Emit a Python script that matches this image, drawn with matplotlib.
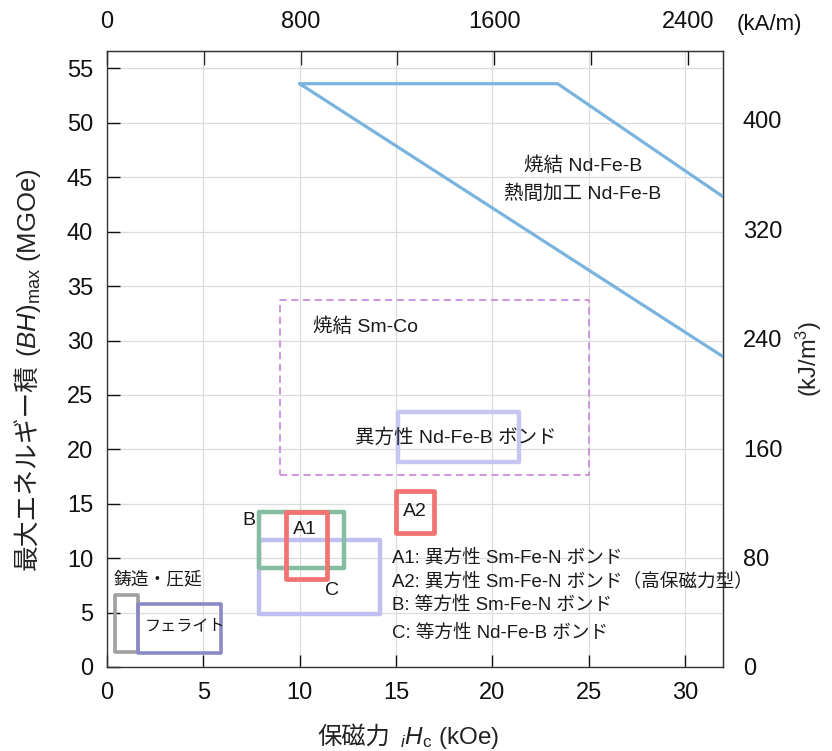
import matplotlib
matplotlib.use('Agg')
import matplotlib.pyplot as plt
from matplotlib.patches import Rectangle

plt.rcParams['font.family'] = ['Liberation Sans', 'Noto Sans CJK JP']
plt.rcParams['mathtext.fontset'] = 'custom'
plt.rcParams['mathtext.rm'] = 'Liberation Sans'
plt.rcParams['mathtext.it'] = 'Liberation Sans:italic'

# unit conversions for the secondary axes
KOE_TO_KAM = 79.577     # kOe -> kA/m
MGOE_TO_KJM3 = 7.9577   # MGOe -> kJ/m^3

# sintered / hot-worked Nd-Fe-B region boundary (Hc kOe, BHmax MGOe)
ndfeb_lower_x = [10.0, 32.0]
ndfeb_lower_y = [53.6, 28.5]
ndfeb_upper_x = [10.0, 23.4, 32.0]
ndfeb_upper_y = [53.6, 53.6, 43.2]

# material regions: (Hc_min, Hc_max, BH_min, BH_max)
smco = (9.0, 25.0, 17.6, 33.7)
aniso_ndfeb_bond = (15.1, 21.4, 18.8, 23.4)
a2_region = (15.0, 17.0, 12.3, 16.2)
c_region = (7.9, 14.2, 4.9, 11.7)
b_region = (7.9, 12.3, 9.1, 14.2)
a1_region = (9.3, 11.4, 8.1, 14.2)
cast_region = (0.4, 1.6, 1.4, 6.6)
ferrite_region = (1.6, 5.9, 1.3, 5.8)

legend_lines = [
    'A1: 異方性 Sm-Fe-N ボンド',
    'A2: 異方性 Sm-Fe-N ボンド（高保磁力型）',
    'B: 等方性 Sm-Fe-N ボンド',
    'C: 等方性 Nd-Fe-B ボンド',
]

x_ticks = [0, 5, 10, 15, 20, 25, 30]
y_ticks = [0, 5, 10, 15, 20, 25, 30, 35, 40, 45, 50, 55]
top_ticks = [0, 400, 800, 1200, 1600, 2000, 2400]
top_labels = ['0', '', '800', '', '1600', '', '2400']
right_ticks = [0, 80, 160, 240, 320, 400]

fig = plt.figure(figsize=(8.32, 7.51), dpi=100)
ax = fig.add_axes([0.1286, 0.1119, 0.7408, 0.8201])
ax.set_xlim(0, 32)
ax.set_ylim(0, 56.6)

txt = '#1a1a1a'


def box(region, color, lw, ls='-', z=2):
    x0, x1, y0, y1 = region
    ax.add_patch(Rectangle((x0, y0), x1 - x0, y1 - y0, fill=False,
                           edgecolor=color, lw=lw, ls=ls, zorder=z,
                           joinstyle='round'))


ax.plot(ndfeb_lower_x, ndfeb_lower_y, color='#7ab4de', lw=2.3, zorder=3,
        solid_capstyle='round')
ax.plot(ndfeb_upper_x, ndfeb_upper_y, color='#7ab4de', lw=2.3, zorder=3,
        solid_capstyle='round')

box(smco, '#cc8ede', 1.3, ls=(0, (4, 2.5)))
box(aniso_ndfeb_bond, '#c6c6f0', 3.2)
box(a2_region, '#f37272', 3.4)
box(c_region, '#c0c0f0', 3.2, z=2)
box(b_region, '#86bca2', 3.2, z=3)
box(a1_region, '#f37272', 3.4, z=4)
box(cast_region, '#a0a0a0', 2.6)
box(ferrite_region, '#8a8ac8', 2.6)

fs = 14
ax.text(24.7, 46.1, '焼結 Nd-Fe-B', ha='center', va='center', fontsize=fs, color=txt)
ax.text(24.7, 43.5, '熱間加工 Nd-Fe-B', ha='center', va='center', fontsize=fs, color=txt)
ax.text(10.7, 31.3, '焼結 Sm-Co', ha='left', va='center', fontsize=fs, color=txt)
ax.text(18.1, 21.1, '異方性 Nd-Fe-B ボンド', ha='center', va='center', fontsize=fs, color=txt)
ax.text(16.0, 14.3, 'A2', ha='center', va='center', fontsize=fs, color=txt)
ax.text(10.3, 12.6, 'A1', ha='center', va='center', fontsize=fs, color=txt)
ax.text(7.35, 13.5, 'B', ha='center', va='center', fontsize=fs, color=txt)
ax.text(11.7, 7.0, 'C', ha='center', va='center', fontsize=fs, color=txt)
ax.text(0.35, 8.0, '鋳造・圧延', ha='left', va='center', fontsize=12.8, color=txt)
ax.text(1.95, 3.8, 'フェライト', ha='left', va='center', fontsize=11.6, color=txt)

legend_y = [10.0, 7.9, 5.7, 3.1]
for s, yy in zip(legend_lines, legend_y):
    ax.text(14.8, yy, s, ha='left', va='center', fontsize=13.4, color=txt)

ax.set_xticks(x_ticks)
ax.set_yticks(y_ticks)
ax.grid(True, color='#dcdcdc', lw=0.9)
ax.set_axisbelow(True)
ax.tick_params(axis='both', direction='in', length=9, width=1.0,
               labelsize=17, colors='#111111')
ax.tick_params(axis='x', pad=11)
ax.tick_params(axis='y', pad=10)
for sp in ax.spines.values():
    sp.set_color('#333333')
    sp.set_linewidth(1.0)

top = ax.secondary_xaxis('top', functions=(lambda x: x * KOE_TO_KAM,
                                           lambda x: x / KOE_TO_KAM))
top.set_xticks(top_ticks)
top.set_xticklabels(top_labels)
top.tick_params(direction='in', length=10, width=1.0, labelsize=17, pad=13,
                colors='#111111')
top.spines['top'].set_color('#333333')

right = ax.secondary_yaxis('right', functions=(lambda y: y * MGOE_TO_KJM3,
                                               lambda y: y / MGOE_TO_KJM3))
right.set_yticks(right_ticks)
right.tick_params(length=0, labelsize=17, pad=14, colors='#111111')
right.spines['right'].set_color('#333333')
right.set_ylabel('(kJ/m$^3$)', fontsize=17, labelpad=8, color='#222222')

fig.text(0.885, 0.967, '(kA/m)', fontsize=16, ha='left', va='center',
         color='#111111')


def chained_label(pieces, x, y, rotation, fontsize, gap=6):
    """Lay out text pieces end to end on a shared baseline, centred on (x, y)
    in figure pixels; lets CJK text sit next to mathtext."""
    renderer = fig.canvas.get_renderer()
    items = []
    for s in pieces:
        t = fig.text(0, 0, s, rotation=rotation, rotation_mode='anchor',
                     ha='left', va='baseline', fontsize=fontsize,
                     color='#222222', transform=None)
        bb = t.get_window_extent(renderer)
        items.append((t, bb.height if rotation else bb.width))
    total = sum(l for _, l in items) + gap * (len(items) - 1)
    pos = -total / 2
    for t, l in items:
        if rotation:
            t.set_position((x, y + pos))
        else:
            t.set_position((x + pos, y))
        pos += l + gap


# x label: 保磁力 iHc (kOe)
chained_label(['保磁力', '${}_{i}H_{\\mathrm{c}}$ (kOe)'],
              408, 751 - 744, 0, 17.5, gap=10)
# y label: 最大エネルギー積 (BH)max (MGOe)
chained_label(['最大エネルギー積', '$(BH)_{\\mathrm{max}}$ (MGOe)'],
              36, 751 - 369, 90, 18.5, gap=7)

fig.savefig('out.png', dpi=100)
